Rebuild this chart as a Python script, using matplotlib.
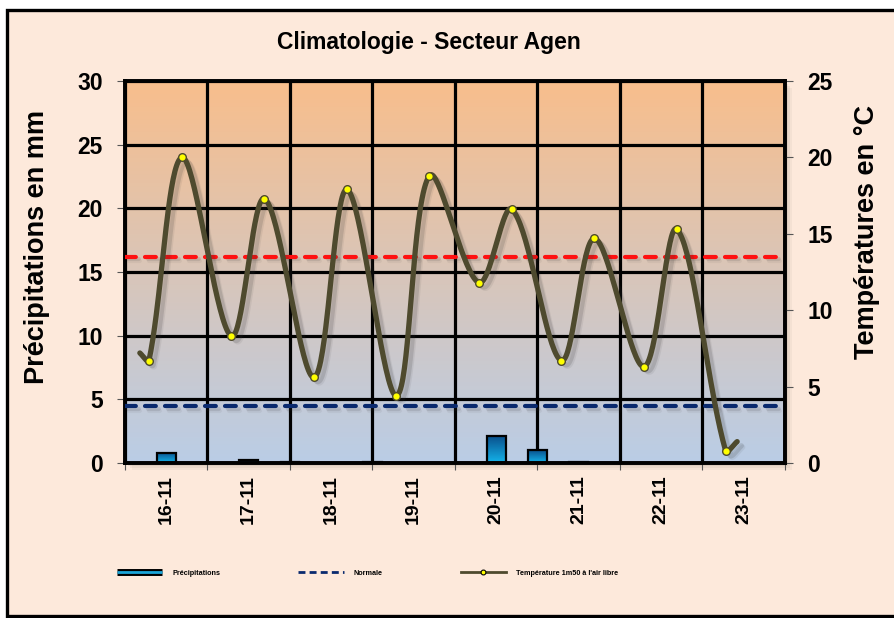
import numpy as np
import matplotlib
matplotlib.use('Agg')
import matplotlib.pyplot as plt
from matplotlib.patches import Rectangle
from matplotlib.lines import Line2D
from matplotlib.legend_handler import HandlerTuple
import matplotlib.patheffects as pe

# ---------------- data ----------------
days = ['16-11', '17-11', '18-11', '19-11', '20-11', '21-11', '22-11', '23-11']
precip_pos = [0.5, 1.5, 2.0, 3.0, 4.5, 5.0, 5.5]          # time in days
precip_mm = [0.8, 0.2, 0.1, 0.1, 2.1, 1.0, 0.1]
temp_pos = [0.18, 0.29, 0.69, 1.29, 1.69, 2.29, 2.69, 3.29, 3.69,
            4.29, 4.69, 5.29, 5.69, 6.29, 6.69, 7.28, 7.42]
temp_c = [7.2, 6.7, 20.0, 8.3, 17.3, 5.6, 17.9, 4.4, 18.8,
          11.8, 16.6, 6.7, 14.7, 6.3, 15.3, 0.8, 1.4]
normale_max = 13.5
normale_min = 3.7
left_ticks = [0, 5, 10, 15, 20, 25, 30]
right_ticks = [0, 5, 10, 15, 20, 25]

plt.rcParams['font.family'] = ['Liberation Sans', 'DejaVu Sans']

W, H = 895, 618
fig = plt.figure(figsize=(W / 100, H / 100), dpi=100, facecolor='white')

# outer frame
fig.add_artist(Rectangle((7 / W, 2 / H), 1.2, (H - 12) / H, transform=fig.transFigure,
                         facecolor='#FDE9DB', edgecolor='black', lw=2.4, zorder=-10))

L, R, T, B = 125, 785, 81, 463
ax = fig.add_axes([L / W, 1 - B / H, (R - L) / W, (B - T) / H])

# soft shadow of plot area
for k, a in [(7, 0.06), (5, 0.08), (3, 0.10)]:
    fig.add_artist(Rectangle(((L + k) / W, 1 - (B + k) / H), (R - L) / W, (B - T) / H,
                             transform=fig.transFigure, facecolor='#6d625c', alpha=a,
                             edgecolor='none', zorder=-5))

# plot area gradient
top_c = np.array([248, 190, 140]) / 255
bot_c = np.array([186, 205, 230]) / 255
tt = np.linspace(0, 1, 256)[:, None, None]
grad = top_c * (1 - tt) + bot_c * tt
ax.imshow(grad, extent=[0, 1, 0, 1], transform=ax.transAxes, aspect='auto',
          zorder=0, interpolation='bilinear')

# bars with gradient
bars = ax.bar(precip_pos, precip_mm, width=0.23, facecolor='none',
              edgecolor='black', linewidth=1.6, zorder=3)
bar_top = np.array([10, 80, 140]) / 255
bar_bot = np.array([20, 180, 235]) / 255
bg = bar_top * (1 - tt) + bar_bot * tt
for b in bars:
    x0, y0 = b.get_x(), b.get_y()
    im = ax.imshow(bg, extent=[x0, x0 + b.get_width(), y0, y0 + b.get_height()],
                   aspect='auto', zorder=2.5)
    im.set_clip_path(b)
ax.set_xlim(0, 8)
ax.set_ylim(0, 30)

# grid / ticks
ax.set_xticks(range(0, 9))
ax.set_xticklabels([''] * 9)
ax.set_xticks(np.arange(0.5, 8), minor=True)
ax.set_xticklabels(days, minor=True, rotation=90, fontweight='bold', fontsize=14)
ax.tick_params(axis='x', which='minor', length=0, pad=9)
ax.tick_params(axis='x', which='major', length=5, width=0.8, color='#555555', direction='out')
ax.set_yticks(left_ticks)
ax.set_yticklabels([str(v) for v in left_ticks], fontweight='bold', fontsize=16.5)
ax.tick_params(axis='y', length=6, width=0.8, color='#555555', pad=10)
ax.set_axisbelow(True)
ax.grid(True, which='major', color='black', linewidth=2.3)
for s in ax.spines.values():
    s.set_linewidth(2.6)
    s.set_color('black')
    s.set_zorder(6)

# right axis
ax2 = ax.twinx()
ax2.set_ylim(0, 25)
ax2.set_yticks(right_ticks)
ax2.set_yticklabels([str(v) for v in right_ticks], fontweight='bold', fontsize=16.5)
ax2.tick_params(axis='y', length=6, width=0.8, color='#555555', pad=10)
for s in ax2.spines.values():
    s.set_linewidth(2.6)
    s.set_color('black')


def soft_shadow(off, alpha):
    return [pe.SimpleLineShadow(offset=(off + 1, -off - 1), shadow_color='#333333', alpha=alpha * 0.5),
            pe.SimpleLineShadow(offset=(off, -off), shadow_color='#333333', alpha=alpha),
            pe.Normal()]


ax2.axhline(normale_max, color='#FF1010', lw=3.0, linestyle=(0, (2.6, 2.2)),
            dash_capstyle='round', zorder=4, path_effects=soft_shadow(2, 0.12))
ax2.axhline(normale_min, color='#0A2A6E', lw=3.0, linestyle=(0, (2.6, 2.2)),
            dash_capstyle='round', zorder=4, path_effects=soft_shadow(2, 0.12))

# pixel scale (for chord-length weighted smoothing, like a spreadsheet "smoothed line")
sx = (R - L) / 8.0
sy = (B - T) / 25.0


def smooth(xs, ys, n=40):
    P = np.column_stack([np.asarray(xs) * sx, np.asarray(ys) * sy]).astype(float)
    out = [P[0]]
    N = len(P)
    for i in range(N - 1):
        p0 = P[i - 1] if i > 0 else P[i]
        p1, p2 = P[i], P[i + 1]
        p3 = P[i + 2] if i + 2 < N else P[i + 1]
        d01 = np.hypot(*(p1 - p0))
        d12 = np.hypot(*(p2 - p1))
        d23 = np.hypot(*(p3 - p2))
        m1 = (p2 - p0) / (d01 + d12) * d12 / 3 if d01 > 0 else (p2 - p1) / 3
        m2 = (p3 - p1) / (d12 + d23) * d12 / 3 if d23 > 0 else (p2 - p1) / 3
        c1 = p1 + m1
        c2 = p2 - m2
        t = np.linspace(0, 1, n)[1:, None]
        seg = (1 - t) ** 3 * p1 + 3 * (1 - t) ** 2 * t * c1 + 3 * (1 - t) * t ** 2 * c2 + t ** 3 * p2
        out.extend(seg)
    out = np.array(out)
    return out[:, 0] / sx, out[:, 1] / sy


cx, cy = smooth(temp_pos, temp_c)
line_col = '#4E4A2E'
ax2.plot(cx, cy, color=line_col, lw=3.8, solid_capstyle='round',
         zorder=5, path_effects=soft_shadow(3, 0.15))
ax2.plot(temp_pos[1:-1], temp_c[1:-1], linestyle='none', marker='o', markersize=5.5,
         markerfacecolor='#FFFF00', markeredgecolor='#4E4A2E', markeredgewidth=1.0, zorder=6)

# titles / labels
fig.text(429 / W, 1 - 42 / H, 'Climatologie - Secteur Agen', ha='center', va='center',
         fontsize=16.5, fontweight='bold')
fig.text(37 / W, 1 - 247 / H, 'Précipitations en mm', rotation=90, ha='center', va='center',
         fontsize=19.5, fontweight='bold')
fig.text(867 / W, 1 - 232 / H, 'Températures en °C', rotation=90, ha='center', va='center',
         fontsize=19.5, fontweight='bold')

# legend
h_p = (Line2D([], [], color='black', lw=5, solid_capstyle='butt'),
       Line2D([], [], color='#1AA6DA', lw=2.0, solid_capstyle='butt'))
h_n = Line2D([], [], color='#0A2A6E', lw=2.0, linestyle=(0, (2.5, 1.5)))
h_t = Line2D([], [], color=line_col, lw=2.0, marker='o', markersize=3.5,
             markerfacecolor='#FFFF00', markeredgecolor='black', markeredgewidth=0.8)
fig.legend(handles=[h_p, h_n, h_t],
           labels=['Précipitations', 'Normale', "Température 1m50 à l'air libre"],
           handler_map={tuple: HandlerTuple(ndivide=1, pad=0)},
           ncol=3, loc='center left', bbox_to_anchor=(117 / W, 1 - 573 / H),
           frameon=False, prop=dict(weight='bold', size=5.2),
           handlelength=6.3, handletextpad=1.35, columnspacing=10.8,
           borderpad=0, borderaxespad=0, numpoints=1)

fig.savefig('out.png', dpi=100, facecolor=fig.get_facecolor())
